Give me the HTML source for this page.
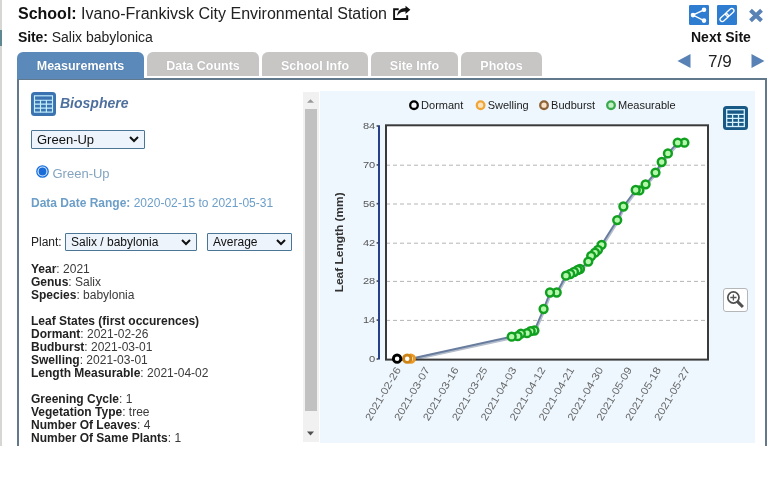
<!DOCTYPE html>
<html>
<head>
<meta charset="utf-8">
<title>GLOBE Visualization</title>
<style>
*{box-sizing:border-box;margin:0;padding:0}
html,body{width:774px;height:486px;overflow:hidden;background:#fff}
body{font-family:"Liberation Sans",sans-serif;position:relative;color:#222}
.abs{position:absolute}
#edge{left:0;top:0;width:1.500px;height:446px;background:#d6d6d3}
#edge2{left:0;top:30px;width:1.500px;height:16px;background:#5f8890}
#school{left:18px;top:4px;font-size:16px;line-height:19px;white-space:nowrap;color:#222}
#school b{color:#111}
#site{left:18px;top:29px;font-size:14px;line-height:16px;white-space:nowrap;color:#222}
#site b{color:#111;font-size:14px;letter-spacing:-0.100px}
.tab{position:absolute;top:52px;height:24px;border-radius:6px 6px 0 0;background:#c8c6c5;color:#fff;font-weight:bold;font-size:12.500px;line-height:28px;z-index:2;text-align:center;text-shadow:0 0 1px #aaa}
.tab.on{height:27px;background:#5b89ba;text-shadow:0 0 1px #3d689a}
#panel{left:17px;top:78px;width:750px;height:368px;border:2px solid #61798b;border-bottom:none;background:#fff}
#nexts{left:691px;top:29px;font-size:14px;font-weight:bold;line-height:16px;color:#111;white-space:nowrap}
#cnt{left:708px;top:52px;font-size:17px;line-height:19px;color:#222}
.lbl{position:absolute;left:31px;font-size:12px;line-height:13px;white-space:nowrap;color:#3a3a3a}
.lbl b{color:#222}
.sel{position:absolute;border:1px solid #4a7594;background:#eef4fb;color:#111;white-space:nowrap;border-radius:1px}
</style>
</head>
<body>
<div id="wrap" style="position:absolute;left:0;top:0;width:774px;height:486px;will-change:transform">
<div class="abs" id="edge"></div>
<div class="abs" id="edge2"></div>

<div class="abs" id="school"><b>School:</b> Ivano-Frankivsk City Environmental Station</div>
<svg class="abs" style="left:392px;top:5px" width="20" height="16" viewBox="0 0 20 16"><path d="M6.700 4.200H2.100V14H15.200V10.200" fill="none" stroke="#111" stroke-width="1.900"/><path d="M13.500 .7L18.400 4.700 13.500 8.900V6.600C10.500 6.600 7.500 7.500 5.100 10.800 5.500 6.500 8.500 3.100 13.500 3.100z" fill="#111"/></svg>
<div class="abs" id="site"><b>Site:</b> Salix babylonica</div>

<!-- top-right icons -->
<svg class="abs" style="left:689px;top:5px" width="20" height="20" viewBox="0 0 20 20"><rect width="20" height="20" rx="1.200" fill="#2f7dd1"/><g stroke="#fff" stroke-width="1.400" fill="#fff"><path d="M15 4.800L3.900 10.100 15 15.600" fill="none"/><circle cx="15" cy="4.800" r="1.600"/><circle cx="4" cy="10.100" r="1.600"/><circle cx="15" cy="15.600" r="1.600"/></g></svg>
<svg class="abs" style="left:717px;top:5px" width="20" height="20" viewBox="0 0 20 20"><rect width="20" height="20" rx="1.200" fill="#2f7dd1"/><g fill="none" stroke="#fff" stroke-width="1.300" transform="rotate(-42 10 10)"><rect x="1.400" y="7.800" width="9.600" height="4.400" rx="2.200"/><rect x="9" y="7.800" width="9.600" height="4.400" rx="2.200"/></g></svg>
<svg class="abs" style="left:748px;top:8px" width="16" height="15" viewBox="0 0 16 15"><path d="M2.500 2.200L13.500 12.800M13.500 2.200L2.500 12.800" stroke="#5881b5" stroke-width="4" stroke-linecap="butt"/></svg>
<div class="abs" id="nexts">Next Site</div>
<svg class="abs" style="left:677px;top:53px" width="14" height="16" viewBox="0 0 14 16"><path d="M13.500 1v14L.5 8z" fill="#5881b5"/></svg>
<div class="abs" id="cnt">7/9</div>
<svg class="abs" style="left:751px;top:53px" width="14" height="16" viewBox="0 0 14 16"><path d="M.5 1v14L13.500 8z" fill="#5881b5"/></svg>

<!-- tabs -->
<div class="tab on" style="left:17px;width:127px">Measurements</div>
<div class="tab" style="left:147px;width:112px">Data Counts</div>
<div class="tab" style="left:262px;width:106px">School Info</div>
<div class="tab" style="left:371px;width:87px">Site Info</div>
<div class="tab" style="left:461px;width:81px">Photos</div>

<div class="abs" id="panel"></div>

<!-- left column -->
<svg class="abs" style="left:31px;top:92px" width="25" height="24" viewBox="0 0 25 24"><rect width="25" height="24" rx="3.500" fill="#3b73b1"/><rect x="3.500" y="3.800" width="18" height="16.300" fill="none" stroke="#c2f0ff" stroke-width="1.150"/><path d="M3.500 8.200h18M3.500 12.100h18M3.500 16.100h18M9.500 8.200v12M15.400 8.200v12" stroke="#c2f0ff" stroke-width="1.150" fill="none"/></svg>
<div class="abs" style="left:60px;top:95px;font-size:14px;line-height:16px;font-weight:bold;font-style:italic;color:#4d6f9e;white-space:nowrap">Biosphere</div>

<div class="sel" style="left:31px;top:130px;width:114px;height:19px;font-size:13px;line-height:17px;padding-left:5px">Green-Up<svg style="position:absolute;right:5px;top:5px" width="10" height="7" viewBox="0 0 10 7"><path d="M1 1l4 4 4-4" fill="none" stroke="#111" stroke-width="2"/></svg></div>

<svg class="abs" style="left:36px;top:165px" width="13" height="13" viewBox="0 0 13 13"><circle cx="6.500" cy="6.500" r="5.700" fill="#dcecff" stroke="#1a6fe0" stroke-width="1.300"/><circle cx="6.500" cy="6.500" r="3.900" fill="#1a6ad8"/></svg>
<div class="abs" style="left:52.500px;top:166px;font-size:13px;line-height:16px;color:#84a4c0;white-space:nowrap">Green-Up</div>

<div class="abs" style="left:31px;top:195.500px;font-size:12px;line-height:15px;color:#6c9ec8;white-space:nowrap"><b>Data Date Range:</b> 2020-02-15 to 2021-05-31</div>

<div class="abs" style="left:31px;top:234px;font-size:12px;line-height:16px;color:#222;white-space:nowrap">Plant:</div>
<div class="sel" style="left:65px;top:233px;width:132px;height:18px;font-size:12px;line-height:16px;padding-left:5px">Salix / babylonia<svg style="position:absolute;right:5px;top:5px" width="10" height="7" viewBox="0 0 10 7"><path d="M1 1l4 4 4-4" fill="none" stroke="#111" stroke-width="2"/></svg></div>
<div class="sel" style="left:207px;top:233px;width:85px;height:18px;font-size:12px;line-height:16px;padding-left:5px">Average<svg style="position:absolute;right:5px;top:5px" width="10" height="7" viewBox="0 0 10 7"><path d="M1 1l4 4 4-4" fill="none" stroke="#111" stroke-width="2"/></svg></div>

<div class="lbl" style="top:263px"><b>Year</b>: 2021<br><b>Genus</b>: Salix<br><b>Species</b>: babylonia<br><br><b>Leaf States (first occurences)</b><br><b>Dormant</b>: 2021-02-26<br><b>Budburst</b>: 2021-03-01<br><b>Swelling</b>: 2021-03-01<br><b>Length Measurable</b>: 2021-04-02<br><br><b>Greening Cycle</b>: 1<br><b>Vegetation Type</b>: tree<br><b>Number Of Leaves</b>: 4<br><b>Number Of Same Plants</b>: 1</div>

<!-- scrollbar -->
<div class="abs" style="left:303px;top:92px;width:16px;height:350px;background:#f1f1f1"></div>
<div class="abs" style="left:304.500px;top:109px;width:12.500px;height:302px;background:#c1c1c1"></div>
<svg class="abs" style="left:303px;top:93px" width="15" height="15" viewBox="0 0 15 15"><path d="M4 9.800l3.500-3.600 3.500 3.600z" fill="#9a9a9a"/></svg>
<svg class="abs" style="left:303px;top:426px" width="15" height="15" viewBox="0 0 15 15"><path d="M4 5.500l3.500 4 3.500-4z" fill="#505050"/></svg>

<!-- chart -->
<div class="abs" style="left:320px;top:90.500px;width:434.500px;height:352.500px;background:#eef7fe"></div>
<svg class="abs" id="chart" style="left:320px;top:90px" width="436" height="354" viewBox="320 90 436 354" font-family="Liberation Sans, sans-serif">
<rect x="386" y="125.3" width="322" height="234.3" fill="#fff"/>
<path d="M386 165.2H708" stroke="#b4b4b4" stroke-width="1" stroke-dasharray="4 3"/>
<path d="M386 204H708" stroke="#b4b4b4" stroke-width="1" stroke-dasharray="4 3"/>
<path d="M386 243.2H708" stroke="#b4b4b4" stroke-width="1" stroke-dasharray="4 3"/>
<path d="M386 281.4H708" stroke="#b4b4b4" stroke-width="1" stroke-dasharray="4 3"/>
<path d="M386 320.4H708" stroke="#b4b4b4" stroke-width="1" stroke-dasharray="4 3"/>
<path d="M379 125.300V359.500" stroke="#27408b" stroke-width="2"/>
<path d="M397.1 358.7 L407.2 358.7 L410.8 358.7 L511.7 336.7 L517.7 336.2 L520.9 333.7 L527 333.2 L530.7 331.2 L534.4 330.5 L543.6 309 L550 292.5 L556.7 292.5 L566 275.7 L570.2 274 L574 272 L577.7 270 L580 269 L588.3 261.6 L591.2 256 L595 252.7 L598 249.8 L601.6 244.8 L617.2 220.1 L623.4 206.5 L635.7 190 L639.4 190.4 L645.6 184.3 L655.5 172.6 L661.7 162 L667.9 153.4 L677.7 142.7 L684.4 142.7" fill="none" stroke="#b3bdcb" stroke-width="2.400" stroke-linejoin="round" transform="translate(0.8 1.2)"/>
<path d="M397.1 358.7 L407.2 358.7 L410.8 358.7 L511.7 336.7 L517.7 336.2 L520.9 333.7 L527 333.2 L530.7 331.2 L534.4 330.5 L543.6 309 L550 292.5 L556.7 292.5 L566 275.7 L570.2 274 L574 272 L577.7 270 L580 269 L588.3 261.6 L591.2 256 L595 252.7 L598 249.8 L601.6 244.8 L617.2 220.1 L623.4 206.5 L635.7 190 L639.4 190.4 L645.6 184.3 L655.5 172.6 L661.7 162 L667.9 153.4 L677.7 142.7 L684.4 142.7" fill="none" stroke="#687c9e" stroke-width="1.900" stroke-linejoin="round"/>
<rect x="386" y="125.3" width="322" height="234.3" fill="none" stroke="#3a3a3a" stroke-width="2"/>
<text x="375.200" y="129.2" font-size="9.300" fill="#555" text-anchor="end" textLength="12.3" lengthAdjust="spacingAndGlyphs">84</text>
<path d="M376.600 126.0h1.600" stroke="#444" stroke-width="1.600"/>
<text x="375.200" y="168.1" font-size="9.300" fill="#555" text-anchor="end" textLength="12.3" lengthAdjust="spacingAndGlyphs">70</text>
<path d="M376.600 164.89999999999998h1.600" stroke="#444" stroke-width="1.600"/>
<text x="375.200" y="206.9" font-size="9.300" fill="#555" text-anchor="end" textLength="12.3" lengthAdjust="spacingAndGlyphs">56</text>
<path d="M376.600 203.7h1.600" stroke="#444" stroke-width="1.600"/>
<text x="375.200" y="246.1" font-size="9.300" fill="#555" text-anchor="end" textLength="12.3" lengthAdjust="spacingAndGlyphs">42</text>
<path d="M376.600 242.89999999999998h1.600" stroke="#444" stroke-width="1.600"/>
<text x="375.200" y="284.29999999999995" font-size="9.300" fill="#555" text-anchor="end" textLength="12.3" lengthAdjust="spacingAndGlyphs">28</text>
<path d="M376.600 281.09999999999997h1.600" stroke="#444" stroke-width="1.600"/>
<text x="375.200" y="323.29999999999995" font-size="9.300" fill="#555" text-anchor="end" textLength="12.3" lengthAdjust="spacingAndGlyphs">14</text>
<path d="M376.600 320.09999999999997h1.600" stroke="#444" stroke-width="1.600"/>
<text x="375.200" y="362.2" font-size="9.300" fill="#555" text-anchor="end" textLength="6.2" lengthAdjust="spacingAndGlyphs">0</text>
<path d="M376.600 359.0h1.600" stroke="#444" stroke-width="1.600"/>
<text transform="translate(343.300 242.300) rotate(-90)" font-size="10.500" font-weight="bold" fill="#333" text-anchor="middle" textLength="100" lengthAdjust="spacingAndGlyphs">Leaf Length (mm)</text>
<text transform="translate(401.2 369.700) rotate(-59.500)" font-size="10.300" fill="#666" text-anchor="end" textLength="60" lengthAdjust="spacingAndGlyphs">2021-02-26</text>
<text transform="translate(430.1 369.700) rotate(-59.500)" font-size="10.300" fill="#666" text-anchor="end" textLength="60" lengthAdjust="spacingAndGlyphs">2021-03-07</text>
<text transform="translate(459.0 369.700) rotate(-59.500)" font-size="10.300" fill="#666" text-anchor="end" textLength="60" lengthAdjust="spacingAndGlyphs">2021-03-16</text>
<text transform="translate(487.9 369.700) rotate(-59.500)" font-size="10.300" fill="#666" text-anchor="end" textLength="60" lengthAdjust="spacingAndGlyphs">2021-03-25</text>
<text transform="translate(516.8 369.700) rotate(-59.500)" font-size="10.300" fill="#666" text-anchor="end" textLength="60" lengthAdjust="spacingAndGlyphs">2021-04-03</text>
<text transform="translate(545.7 369.700) rotate(-59.500)" font-size="10.300" fill="#666" text-anchor="end" textLength="60" lengthAdjust="spacingAndGlyphs">2021-04-12</text>
<text transform="translate(574.6 369.700) rotate(-59.500)" font-size="10.300" fill="#666" text-anchor="end" textLength="60" lengthAdjust="spacingAndGlyphs">2021-04-21</text>
<text transform="translate(603.5 369.700) rotate(-59.500)" font-size="10.300" fill="#666" text-anchor="end" textLength="60" lengthAdjust="spacingAndGlyphs">2021-04-30</text>
<text transform="translate(632.4 369.700) rotate(-59.500)" font-size="10.300" fill="#666" text-anchor="end" textLength="60" lengthAdjust="spacingAndGlyphs">2021-05-09</text>
<text transform="translate(661.3 369.700) rotate(-59.500)" font-size="10.300" fill="#666" text-anchor="end" textLength="60" lengthAdjust="spacingAndGlyphs">2021-05-18</text>
<text transform="translate(690.2 369.700) rotate(-59.500)" font-size="10.300" fill="#666" text-anchor="end" textLength="60" lengthAdjust="spacingAndGlyphs">2021-05-27</text>
<circle cx="684.4" cy="142.7" r="3.9" fill="#b4f8ac" stroke="#12a021" stroke-width="2.5"/>
<circle cx="677.7" cy="142.7" r="3.9" fill="#b4f8ac" stroke="#12a021" stroke-width="2.5"/>
<circle cx="667.9" cy="153.4" r="3.9" fill="#b4f8ac" stroke="#12a021" stroke-width="2.5"/>
<circle cx="661.7" cy="162" r="3.9" fill="#b4f8ac" stroke="#12a021" stroke-width="2.5"/>
<circle cx="655.5" cy="172.6" r="3.9" fill="#b4f8ac" stroke="#12a021" stroke-width="2.5"/>
<circle cx="645.6" cy="184.3" r="3.9" fill="#b4f8ac" stroke="#12a021" stroke-width="2.5"/>
<circle cx="639.4" cy="190.4" r="3.9" fill="#b4f8ac" stroke="#12a021" stroke-width="2.5"/>
<circle cx="635.7" cy="190" r="3.9" fill="#b4f8ac" stroke="#12a021" stroke-width="2.5"/>
<circle cx="623.4" cy="206.5" r="3.9" fill="#b4f8ac" stroke="#12a021" stroke-width="2.5"/>
<circle cx="617.2" cy="220.1" r="3.9" fill="#b4f8ac" stroke="#12a021" stroke-width="2.5"/>
<circle cx="601.6" cy="244.8" r="3.9" fill="#b4f8ac" stroke="#12a021" stroke-width="2.5"/>
<circle cx="598" cy="249.8" r="3.9" fill="#b4f8ac" stroke="#12a021" stroke-width="2.5"/>
<circle cx="595" cy="252.7" r="3.9" fill="#b4f8ac" stroke="#12a021" stroke-width="2.5"/>
<circle cx="591.2" cy="256" r="3.9" fill="#b4f8ac" stroke="#12a021" stroke-width="2.5"/>
<circle cx="588.3" cy="261.6" r="3.9" fill="#b4f8ac" stroke="#12a021" stroke-width="2.5"/>
<circle cx="580" cy="269" r="3.9" fill="#b4f8ac" stroke="#12a021" stroke-width="2.5"/>
<circle cx="577.7" cy="270" r="3.9" fill="#b4f8ac" stroke="#12a021" stroke-width="2.5"/>
<circle cx="574" cy="272" r="3.9" fill="#b4f8ac" stroke="#12a021" stroke-width="2.5"/>
<circle cx="570.2" cy="274" r="3.9" fill="#b4f8ac" stroke="#12a021" stroke-width="2.5"/>
<circle cx="566" cy="275.7" r="3.9" fill="#b4f8ac" stroke="#12a021" stroke-width="2.5"/>
<circle cx="556.7" cy="292.5" r="3.9" fill="#b4f8ac" stroke="#12a021" stroke-width="2.5"/>
<circle cx="550" cy="292.5" r="3.9" fill="#b4f8ac" stroke="#12a021" stroke-width="2.5"/>
<circle cx="543.6" cy="309" r="3.9" fill="#b4f8ac" stroke="#12a021" stroke-width="2.5"/>
<circle cx="534.4" cy="330.5" r="3.9" fill="#b4f8ac" stroke="#12a021" stroke-width="2.5"/>
<circle cx="530.7" cy="331.2" r="3.9" fill="#b4f8ac" stroke="#12a021" stroke-width="2.5"/>
<circle cx="527" cy="333.2" r="3.9" fill="#b4f8ac" stroke="#12a021" stroke-width="2.5"/>
<circle cx="520.9" cy="333.7" r="3.9" fill="#b4f8ac" stroke="#12a021" stroke-width="2.5"/>
<circle cx="517.7" cy="336.2" r="3.9" fill="#b4f8ac" stroke="#12a021" stroke-width="2.5"/>
<circle cx="511.7" cy="336.7" r="3.9" fill="#b4f8ac" stroke="#12a021" stroke-width="2.5"/>
<circle cx="410.8" cy="358.7" r="3.7" fill="#fff" stroke="#ea9a22" stroke-width="2.9"/>
<circle cx="407.2" cy="358.7" r="3.7" fill="#fff" stroke="#cc8418" stroke-width="2.9"/>
<circle cx="397.1" cy="358.7" r="3.7" fill="#fff" stroke="#000" stroke-width="2.9"/>
<circle cx="414" cy="105.200" r="3.800" fill="#f4f8fc" stroke="#000" stroke-width="2.300"/>
<text x="421.1" y="109" font-size="11" fill="#1c1c1c">Dormant</text>
<circle cx="480.6" cy="105.200" r="3.800" fill="#fde3bd" stroke="#f0a637" stroke-width="2.300"/>
<text x="487.70000000000005" y="109" font-size="11" fill="#1c1c1c">Swelling</text>
<circle cx="544" cy="105.200" r="3.800" fill="#fbe3c8" stroke="#8d6337" stroke-width="2.300"/>
<text x="551.1" y="109" font-size="11" fill="#1c1c1c">Budburst</text>
<circle cx="611" cy="105.200" r="3.800" fill="#c4f0c6" stroke="#3aa84f" stroke-width="2.300"/>
<text x="618.1" y="109" font-size="11" fill="#1c1c1c">Measurable</text>
</svg>


<!-- right icons -->
<svg class="abs" style="left:723px;top:106px" width="25" height="24" viewBox="0 0 25 24"><rect width="25" height="24" rx="3.500" fill="#185a85"/><rect x="3.700" y="3.700" width="17.600" height="16.800" fill="none" stroke="#d4f1fd" stroke-width="1.300"/><path d="M3.700 8.300h17.600M3.700 12.300h17.600M3.700 16.400h17.600M9.600 8.300v12.200M15.500 8.300v12.200" stroke="#d4f1fd" stroke-width="1.300" fill="none"/></svg>
<div class="abs" style="left:723px;top:288px;width:25px;height:24px;background:#fff;border:1px solid #b4b7ba;border-radius:3px"></div>
<svg class="abs" style="left:723px;top:288px" width="25" height="24" viewBox="0 0 25 24"><circle cx="10.400" cy="9.500" r="5.600" fill="none" stroke="#505050" stroke-width="1.700"/><path d="M7.300 9.500h6.200M10.400 6.400v6.200" stroke="#555" stroke-width="1.300"/><path d="M14.300 13.400l5.600 5.600" stroke="#505050" stroke-width="3"/></svg>

</div>
</body>
</html>
